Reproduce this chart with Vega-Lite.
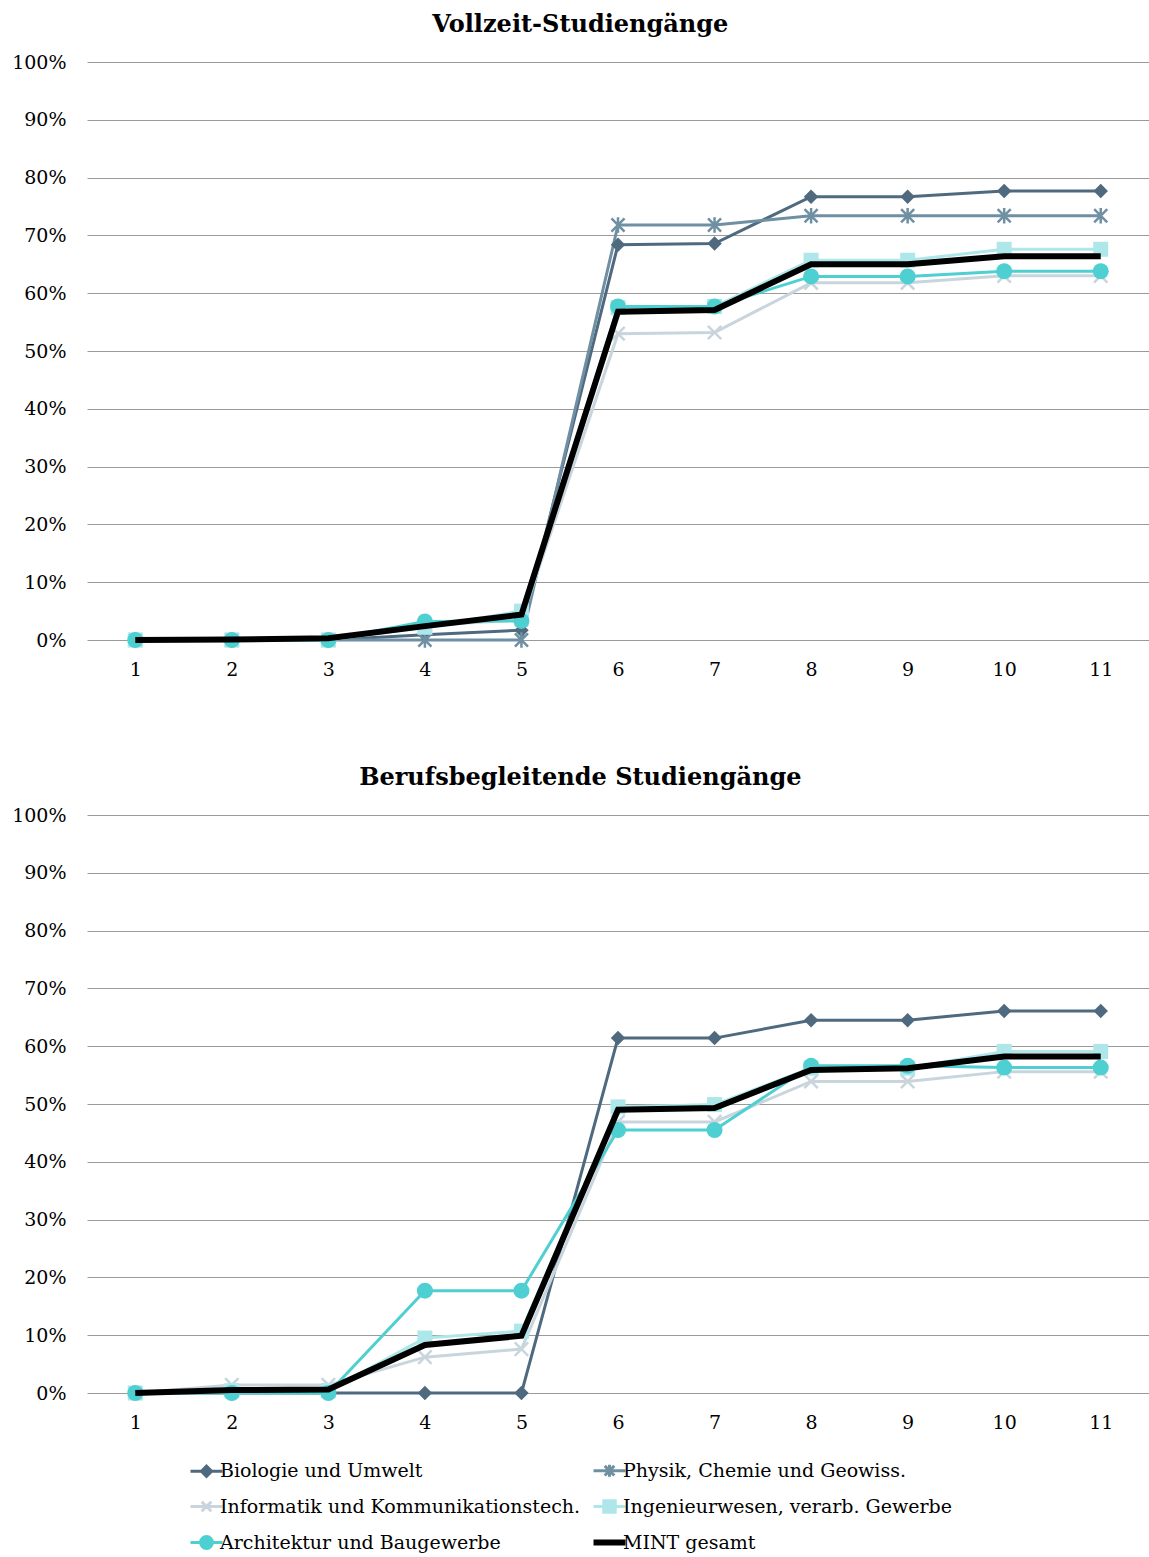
{
  "$schema": "https://vega.github.io/schema/vega-lite/v6.json",
  "background": "white",
  "padding": {"left": 11, "top": 13, "right": 0, "bottom": 0},
  "config": {
    "view": {"stroke": null},
    "font": "DejaVu Serif",
    "axis": {"labelFont": "DejaVu Serif", "labelFontSize": 19, "labelColor": "#000", "ticks": false, "domain": false, "gridColor": "#9a9a9a", "gridWidth": 1, "title": null},
    "title": {"font": "DejaVu Serif", "fontSize": 24, "fontWeight": "bold", "color": "#000", "frame": "bounds", "anchor": "middle", "offset": 16},
    "legend": {"labelFont": "DejaVu Serif", "labelFontSize": 19, "labelColor": "#000", "padding": 0, "labelLimit": 600}
  },
  "data": {"values": [
    {"p":"V","s":"Biologie und Umwelt","x":1,"v":0},{"p":"V","s":"Biologie und Umwelt","x":2,"v":0},{"p":"V","s":"Biologie und Umwelt","x":3,"v":0},{"p":"V","s":"Biologie und Umwelt","x":4,"v":0.009},{"p":"V","s":"Biologie und Umwelt","x":5,"v":0.017},{"p":"V","s":"Biologie und Umwelt","x":6,"v":0.684},{"p":"V","s":"Biologie und Umwelt","x":7,"v":0.686},{"p":"V","s":"Biologie und Umwelt","x":8,"v":0.767},{"p":"V","s":"Biologie und Umwelt","x":9,"v":0.767},{"p":"V","s":"Biologie und Umwelt","x":10,"v":0.777},{"p":"V","s":"Biologie und Umwelt","x":11,"v":0.777},
    {"p":"V","s":"Physik, Chemie und Geowiss.","x":1,"v":0},{"p":"V","s":"Physik, Chemie und Geowiss.","x":2,"v":0},{"p":"V","s":"Physik, Chemie und Geowiss.","x":3,"v":0},{"p":"V","s":"Physik, Chemie und Geowiss.","x":4,"v":0},{"p":"V","s":"Physik, Chemie und Geowiss.","x":5,"v":0},{"p":"V","s":"Physik, Chemie und Geowiss.","x":6,"v":0.718},{"p":"V","s":"Physik, Chemie und Geowiss.","x":7,"v":0.718},{"p":"V","s":"Physik, Chemie und Geowiss.","x":8,"v":0.734},{"p":"V","s":"Physik, Chemie und Geowiss.","x":9,"v":0.734},{"p":"V","s":"Physik, Chemie und Geowiss.","x":10,"v":0.734},{"p":"V","s":"Physik, Chemie und Geowiss.","x":11,"v":0.734},
    {"p":"V","s":"Informatik und Kommunikationstech.","x":1,"v":0},{"p":"V","s":"Informatik und Kommunikationstech.","x":2,"v":0},{"p":"V","s":"Informatik und Kommunikationstech.","x":3,"v":0},{"p":"V","s":"Informatik und Kommunikationstech.","x":4,"v":0.025},{"p":"V","s":"Informatik und Kommunikationstech.","x":5,"v":0.035},{"p":"V","s":"Informatik und Kommunikationstech.","x":6,"v":0.53},{"p":"V","s":"Informatik und Kommunikationstech.","x":7,"v":0.532},{"p":"V","s":"Informatik und Kommunikationstech.","x":8,"v":0.618},{"p":"V","s":"Informatik und Kommunikationstech.","x":9,"v":0.618},{"p":"V","s":"Informatik und Kommunikationstech.","x":10,"v":0.63},{"p":"V","s":"Informatik und Kommunikationstech.","x":11,"v":0.63},
    {"p":"V","s":"Ingenieurwesen, verarb. Gewerbe","x":1,"v":0},{"p":"V","s":"Ingenieurwesen, verarb. Gewerbe","x":2,"v":0},{"p":"V","s":"Ingenieurwesen, verarb. Gewerbe","x":3,"v":0},{"p":"V","s":"Ingenieurwesen, verarb. Gewerbe","x":4,"v":0.022},{"p":"V","s":"Ingenieurwesen, verarb. Gewerbe","x":5,"v":0.05},{"p":"V","s":"Ingenieurwesen, verarb. Gewerbe","x":6,"v":0.575},{"p":"V","s":"Ingenieurwesen, verarb. Gewerbe","x":7,"v":0.577},{"p":"V","s":"Ingenieurwesen, verarb. Gewerbe","x":8,"v":0.657},{"p":"V","s":"Ingenieurwesen, verarb. Gewerbe","x":9,"v":0.657},{"p":"V","s":"Ingenieurwesen, verarb. Gewerbe","x":10,"v":0.676},{"p":"V","s":"Ingenieurwesen, verarb. Gewerbe","x":11,"v":0.676},
    {"p":"V","s":"Architektur und Baugewerbe","x":1,"v":0},{"p":"V","s":"Architektur und Baugewerbe","x":2,"v":0},{"p":"V","s":"Architektur und Baugewerbe","x":3,"v":0},{"p":"V","s":"Architektur und Baugewerbe","x":4,"v":0.032},{"p":"V","s":"Architektur und Baugewerbe","x":5,"v":0.033},{"p":"V","s":"Architektur und Baugewerbe","x":6,"v":0.577},{"p":"V","s":"Architektur und Baugewerbe","x":7,"v":0.577},{"p":"V","s":"Architektur und Baugewerbe","x":8,"v":0.629},{"p":"V","s":"Architektur und Baugewerbe","x":9,"v":0.629},{"p":"V","s":"Architektur und Baugewerbe","x":10,"v":0.638},{"p":"V","s":"Architektur und Baugewerbe","x":11,"v":0.638},
    {"p":"V","s":"MINT gesamt","x":1,"v":0},{"p":"V","s":"MINT gesamt","x":2,"v":0.001},{"p":"V","s":"MINT gesamt","x":3,"v":0.003},{"p":"V","s":"MINT gesamt","x":4,"v":0.024},{"p":"V","s":"MINT gesamt","x":5,"v":0.044},{"p":"V","s":"MINT gesamt","x":6,"v":0.568},{"p":"V","s":"MINT gesamt","x":7,"v":0.571},{"p":"V","s":"MINT gesamt","x":8,"v":0.65},{"p":"V","s":"MINT gesamt","x":9,"v":0.65},{"p":"V","s":"MINT gesamt","x":10,"v":0.664},{"p":"V","s":"MINT gesamt","x":11,"v":0.664},
    {"p":"B","s":"Biologie und Umwelt","x":1,"v":0},{"p":"B","s":"Biologie und Umwelt","x":2,"v":0},{"p":"B","s":"Biologie und Umwelt","x":3,"v":0},{"p":"B","s":"Biologie und Umwelt","x":4,"v":0},{"p":"B","s":"Biologie und Umwelt","x":5,"v":0},{"p":"B","s":"Biologie und Umwelt","x":6,"v":0.614},{"p":"B","s":"Biologie und Umwelt","x":7,"v":0.614},{"p":"B","s":"Biologie und Umwelt","x":8,"v":0.645},{"p":"B","s":"Biologie und Umwelt","x":9,"v":0.645},{"p":"B","s":"Biologie und Umwelt","x":10,"v":0.661},{"p":"B","s":"Biologie und Umwelt","x":11,"v":0.661},
    {"p":"B","s":"Informatik und Kommunikationstech.","x":1,"v":0},{"p":"B","s":"Informatik und Kommunikationstech.","x":2,"v":0.014},{"p":"B","s":"Informatik und Kommunikationstech.","x":3,"v":0.014},{"p":"B","s":"Informatik und Kommunikationstech.","x":4,"v":0.062},{"p":"B","s":"Informatik und Kommunikationstech.","x":5,"v":0.076},{"p":"B","s":"Informatik und Kommunikationstech.","x":6,"v":0.469},{"p":"B","s":"Informatik und Kommunikationstech.","x":7,"v":0.469},{"p":"B","s":"Informatik und Kommunikationstech.","x":8,"v":0.539},{"p":"B","s":"Informatik und Kommunikationstech.","x":9,"v":0.539},{"p":"B","s":"Informatik und Kommunikationstech.","x":10,"v":0.556},{"p":"B","s":"Informatik und Kommunikationstech.","x":11,"v":0.556},
    {"p":"B","s":"Ingenieurwesen, verarb. Gewerbe","x":1,"v":0},{"p":"B","s":"Ingenieurwesen, verarb. Gewerbe","x":2,"v":0.004},{"p":"B","s":"Ingenieurwesen, verarb. Gewerbe","x":3,"v":0.004},{"p":"B","s":"Ingenieurwesen, verarb. Gewerbe","x":4,"v":0.095},{"p":"B","s":"Ingenieurwesen, verarb. Gewerbe","x":5,"v":0.107},{"p":"B","s":"Ingenieurwesen, verarb. Gewerbe","x":6,"v":0.495},{"p":"B","s":"Ingenieurwesen, verarb. Gewerbe","x":7,"v":0.499},{"p":"B","s":"Ingenieurwesen, verarb. Gewerbe","x":8,"v":0.562},{"p":"B","s":"Ingenieurwesen, verarb. Gewerbe","x":9,"v":0.562},{"p":"B","s":"Ingenieurwesen, verarb. Gewerbe","x":10,"v":0.591},{"p":"B","s":"Ingenieurwesen, verarb. Gewerbe","x":11,"v":0.591},
    {"p":"B","s":"Architektur und Baugewerbe","x":1,"v":0},{"p":"B","s":"Architektur und Baugewerbe","x":2,"v":0},{"p":"B","s":"Architektur und Baugewerbe","x":3,"v":0},{"p":"B","s":"Architektur und Baugewerbe","x":4,"v":0.177},{"p":"B","s":"Architektur und Baugewerbe","x":5,"v":0.177},{"p":"B","s":"Architektur und Baugewerbe","x":6,"v":0.455},{"p":"B","s":"Architektur und Baugewerbe","x":7,"v":0.455},{"p":"B","s":"Architektur und Baugewerbe","x":8,"v":0.566},{"p":"B","s":"Architektur und Baugewerbe","x":9,"v":0.566},{"p":"B","s":"Architektur und Baugewerbe","x":10,"v":0.563},{"p":"B","s":"Architektur und Baugewerbe","x":11,"v":0.563},
    {"p":"B","s":"MINT gesamt","x":1,"v":0},{"p":"B","s":"MINT gesamt","x":2,"v":0.005},{"p":"B","s":"MINT gesamt","x":3,"v":0.006},{"p":"B","s":"MINT gesamt","x":4,"v":0.083},{"p":"B","s":"MINT gesamt","x":5,"v":0.099},{"p":"B","s":"MINT gesamt","x":6,"v":0.49},{"p":"B","s":"MINT gesamt","x":7,"v":0.493},{"p":"B","s":"MINT gesamt","x":8,"v":0.559},{"p":"B","s":"MINT gesamt","x":9,"v":0.562},{"p":"B","s":"MINT gesamt","x":10,"v":0.582},{"p":"B","s":"MINT gesamt","x":11,"v":0.582}
  ]},
  "spacing": 87,
  "vconcat": [
    {
      "title": "Vollzeit-Studiengänge",
      "width": 1062, "height": 578,
      "transform": [{"filter": "datum.p === 'V'"}],
      "encoding": {
        "x": {"field": "x", "type": "ordinal", "scale": {"type": "point", "padding": 0.5}, "axis": {"labelAngle": 0, "grid": false, "labelPadding": 20}},
        "y": {"field": "v", "type": "quantitative", "scale": {"domain": [0, 1]}, "axis": {"values": [0,0.1,0.2,0.3,0.4,0.5,0.6,0.7,0.8,0.9,1], "format": ".0%", "labelPadding": 21}},
        "color": {"field": "s", "type": "nominal",
          "scale": {"domain": ["Biologie und Umwelt","Physik, Chemie und Geowiss.","Informatik und Kommunikationstech.","Ingenieurwesen, verarb. Gewerbe","Architektur und Baugewerbe","MINT gesamt"], "range": ["#4f6a7e","#6f8fa3","#c9d5dd","#aee7ea","#4ecfd1","#000000"]},
          "legend": {"title": null, "orient": "none", "direction": "horizontal", "legendX": 110, "legendY": 1399, "columns": 2, "symbolSize": 1024, "symbolStrokeWidth": 3, "labelOffset": 4, "rowPadding": 11, "columnPadding": 0,
            "encode": {"symbols": {"update": {
              "shape": {"signal": "datum.value==='Biologie und Umwelt' ? 'M-1,0H1M-0.32,0L0,-0.32L0.32,0L0,0.32Z' : datum.value==='Physik, Chemie und Geowiss.' ? 'M-1,0H1M-0.3,-0.3L0.3,0.3M-0.3,0.3L0.3,-0.3M0,-0.38V0.38' : datum.value==='Informatik und Kommunikationstech.' ? 'M-1,0H1M-0.3,-0.3L0.3,0.3M-0.3,0.3L0.3,-0.3' : datum.value==='Ingenieurwesen, verarb. Gewerbe' ? 'M-1,0H1M-0.36,-0.36H0.36V0.36H-0.36Z' : datum.value==='Architektur und Baugewerbe' ? 'M-1,0H1M-0.37,0A0.37,0.37,0,1,0,0.37,0A0.37,0.37,0,1,0,-0.37,0Z' : 'M-1,0H1'"},
              "fill": {"signal": "datum.value==='Biologie und Umwelt' ? '#4f6a7e' : datum.value==='Ingenieurwesen, verarb. Gewerbe' ? '#aee7ea' : datum.value==='Architektur und Baugewerbe' ? '#4ecfd1' : 'transparent'"},
              "strokeWidth": {"signal": "datum.value==='MINT gesamt' ? 6 : 3"},
              "opacity": {"value": 1}
            }}}
          }
        }
      },
      "layer": [
        {"transform": [{"filter": "datum.s !== 'MINT gesamt'"}], "mark": {"type": "line", "strokeWidth": 3}},
        {"transform": [{"filter": "datum.s === 'Biologie und Umwelt'"}], "mark": {"type": "point", "shape": "diamond", "filled": true, "opacity": 1, "size": 210}},
        {"transform": [{"filter": "datum.s === 'Physik, Chemie und Geowiss.'"}], "mark": {"type": "point", "shape": "M-1,-1L1,1M-1,1L1,-1M0,-1.2V1.2", "filled": false, "opacity": 1, "size": 170, "strokeWidth": 2.5}},
        {"transform": [{"filter": "datum.s === 'Informatik und Kommunikationstech.'"}], "mark": {"type": "point", "shape": "M-1,-1L1,1M-1,1L1,-1", "filled": false, "opacity": 1, "size": 180, "strokeWidth": 2.5}},
        {"transform": [{"filter": "datum.s === 'Ingenieurwesen, verarb. Gewerbe'"}], "mark": {"type": "point", "shape": "square", "filled": true, "opacity": 1, "size": 225}},
        {"transform": [{"filter": "datum.s === 'Architektur und Baugewerbe'"}], "mark": {"type": "point", "shape": "circle", "filled": true, "opacity": 1, "size": 256}},
        {"transform": [{"filter": "datum.s === 'MINT gesamt'"}], "mark": {"type": "line", "strokeWidth": 6}}
      ]
    },
    {
      "title": "Berufsbegleitende Studiengänge",
      "width": 1062, "height": 578,
      "transform": [{"filter": "datum.p === 'B'"}],
      "encoding": {
        "x": {"field": "x", "type": "ordinal", "scale": {"type": "point", "padding": 0.5}, "axis": {"labelAngle": 0, "grid": false, "labelPadding": 20}},
        "y": {"field": "v", "type": "quantitative", "scale": {"domain": [0, 1]}, "axis": {"values": [0,0.1,0.2,0.3,0.4,0.5,0.6,0.7,0.8,0.9,1], "format": ".0%", "labelPadding": 21}},
        "color": {"field": "s", "type": "nominal",
          "scale": {"domain": ["Biologie und Umwelt","Physik, Chemie und Geowiss.","Informatik und Kommunikationstech.","Ingenieurwesen, verarb. Gewerbe","Architektur und Baugewerbe","MINT gesamt"], "range": ["#4f6a7e","#6f8fa3","#c9d5dd","#aee7ea","#4ecfd1","#000000"]},
          "legend": {"title": null, "orient": "none", "direction": "horizontal", "legendX": 110, "legendY": 1399, "columns": 2, "symbolSize": 1024, "symbolStrokeWidth": 3, "labelOffset": 4, "rowPadding": 11, "columnPadding": 0,
            "encode": {"symbols": {"update": {
              "shape": {"signal": "datum.value==='Biologie und Umwelt' ? 'M-1,0H1M-0.32,0L0,-0.32L0.32,0L0,0.32Z' : datum.value==='Physik, Chemie und Geowiss.' ? 'M-1,0H1M-0.3,-0.3L0.3,0.3M-0.3,0.3L0.3,-0.3M0,-0.38V0.38' : datum.value==='Informatik und Kommunikationstech.' ? 'M-1,0H1M-0.3,-0.3L0.3,0.3M-0.3,0.3L0.3,-0.3' : datum.value==='Ingenieurwesen, verarb. Gewerbe' ? 'M-1,0H1M-0.36,-0.36H0.36V0.36H-0.36Z' : datum.value==='Architektur und Baugewerbe' ? 'M-1,0H1M-0.37,0A0.37,0.37,0,1,0,0.37,0A0.37,0.37,0,1,0,-0.37,0Z' : 'M-1,0H1'"},
              "fill": {"signal": "datum.value==='Biologie und Umwelt' ? '#4f6a7e' : datum.value==='Ingenieurwesen, verarb. Gewerbe' ? '#aee7ea' : datum.value==='Architektur und Baugewerbe' ? '#4ecfd1' : 'transparent'"},
              "strokeWidth": {"signal": "datum.value==='MINT gesamt' ? 6 : 3"},
              "opacity": {"value": 1}
            }}}
          }
        }
      },
      "layer": [
        {"transform": [{"filter": "datum.s !== 'MINT gesamt'"}], "mark": {"type": "line", "strokeWidth": 3}},
        {"transform": [{"filter": "datum.s === 'Biologie und Umwelt'"}], "mark": {"type": "point", "shape": "diamond", "filled": true, "opacity": 1, "size": 210}},
        {"transform": [{"filter": "datum.s === 'Physik, Chemie und Geowiss.'"}], "mark": {"type": "point", "shape": "M-1,-1L1,1M-1,1L1,-1M0,-1.2V1.2", "filled": false, "opacity": 1, "size": 170, "strokeWidth": 2.5}},
        {"transform": [{"filter": "datum.s === 'Informatik und Kommunikationstech.'"}], "mark": {"type": "point", "shape": "M-1,-1L1,1M-1,1L1,-1", "filled": false, "opacity": 1, "size": 180, "strokeWidth": 2.5}},
        {"transform": [{"filter": "datum.s === 'Ingenieurwesen, verarb. Gewerbe'"}], "mark": {"type": "point", "shape": "square", "filled": true, "opacity": 1, "size": 225}},
        {"transform": [{"filter": "datum.s === 'Architektur und Baugewerbe'"}], "mark": {"type": "point", "shape": "circle", "filled": true, "opacity": 1, "size": 256}},
        {"transform": [{"filter": "datum.s === 'MINT gesamt'"}], "mark": {"type": "line", "strokeWidth": 6}}
      ]
    }
  ]
}
